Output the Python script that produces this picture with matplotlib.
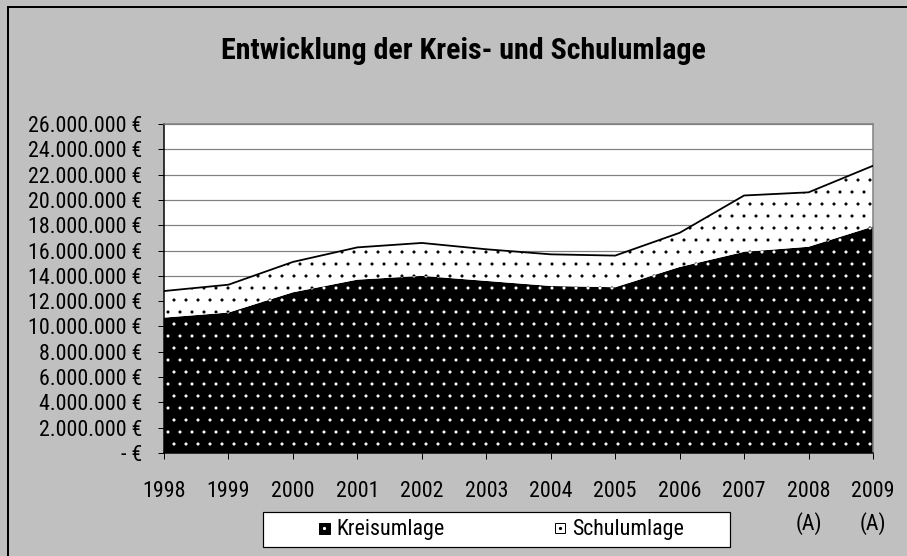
import numpy as np
import matplotlib
matplotlib.use("Agg")
import matplotlib.pyplot as plt
from matplotlib.patches import Rectangle
from matplotlib.lines import Line2D
from matplotlib.ticker import FuncFormatter

# ---- data ----
years = ['1998', '1999', '2000', '2001', '2002', '2003', '2004', '2005',
         '2006', '2007', '2008\n(A)', '2009\n(A)']
kreisumlage = [10.7e6, 11.1e6, 12.7e6, 13.7e6, 14.0e6, 13.6e6, 13.2e6, 13.1e6,
               14.7e6, 15.9e6, 16.3e6, 17.9e6]
schulumlage = [2.1e6, 2.2e6, 2.4e6, 2.55e6, 2.6e6, 2.5e6, 2.5e6, 2.5e6,
               2.7e6, 4.45e6, 4.3e6, 4.8e6]
series_names = ['Kreisumlage', 'Schulumlage']
title = 'Entwicklung der Kreis- und Schulumlage'

plt.rcParams['font.family'] = ['Roboto Condensed', 'Liberation Sans', 'DejaVu Sans']
plt.rcParams['hatch.linewidth'] = 0.6

W, H, DPI = 907, 556, 72
fig = plt.figure(figsize=(W / DPI, H / DPI), dpi=DPI, facecolor='#C0C0C0')

def fx(px):
    return px / W

def fy(py):
    return 1 - py / H

# outer frame (left and top visible)
fig.add_artist(Line2D([fx(8), fx(8)], [fy(7), 0], color='black', lw=2))
fig.add_artist(Line2D([fx(8), 1], [fy(7), fy(7)], color='black', lw=2))

left, right, top, bottom = 164, 873, 124, 453
ax = fig.add_axes([fx(left), fy(bottom), fx(right - left), (bottom - top) / H])
ax.set_facecolor('white')

x = np.arange(len(years))
k = np.array(kreisumlage)
s = np.array(schulumlage)
tot = k + s

ax.fill_between(x, 0, k, facecolor='black', edgecolor='white', hatch='.',
                linewidth=0, zorder=2)
ax.fill_between(x, k, tot, facecolor='white', edgecolor='black', hatch='.',
                linewidth=0, zorder=2)
ax.plot(x, tot, color='black', lw=1.8, zorder=3)

ax.set_xlim(0, len(years) - 1)
ax.set_ylim(0, 26e6)
ax.set_yticks(np.arange(0, 26e6 + 1, 2e6))

def fmt(v, pos):
    if v == 0:
        return '- €'
    return f'{int(round(v)):,}'.replace(',', '.') + ' €'

ax.yaxis.set_major_formatter(FuncFormatter(fmt))
ax.set_xticks(x)
ax.set_xticklabels(years, linespacing=1.55)
ax.grid(axis='y', color='#808080', lw=1.2, zorder=1)
ax.set_axisbelow(True)

ax.tick_params(axis='y', direction='out', length=6, width=1, pad=16,
               labelsize=22, colors='black')
ax.tick_params(axis='x', direction='out', length=6, width=1, pad=22,
               labelsize=22, colors='black')
for sp in ['left', 'bottom']:
    ax.spines[sp].set_color('black')
    ax.spines[sp].set_linewidth(1.5)
for sp in ['top', 'right']:
    ax.spines[sp].set_color('#808080')
    ax.spines[sp].set_linewidth(1.5)

fig.text(fx(463), fy(51), title, ha='center', va='center',
         fontsize=30, fontweight='bold')

# legend frame
fig.add_artist(Rectangle((fx(263), fy(547)), fx(730 - 263), (547 - 512) / H,
                         facecolor='white', edgecolor='black', lw=1.2,
                         transform=fig.transFigure))
h1 = (Line2D([], [], marker='s', ls='', ms=11, mfc='black', mec='black'),
      Line2D([], [], marker='o', ls='', ms=2.2, mfc='white', mec='white'))
h2 = (Line2D([], [], marker='s', ls='', ms=10, mfc='white', mec='black', mew=1),
      Line2D([], [], marker='o', ls='', ms=2.2, mfc='black', mec='black'))
leg = fig.legend([h1, h2], series_names, loc='center left',
                 bbox_to_anchor=(fx(318), fy(530)), ncol=2, frameon=False,
                 fontsize=22, handlelength=0.55, handleheight=0.55,
                 handletextpad=0.3, columnspacing=4.95, borderpad=0,
                 borderaxespad=0)

fig.savefig('out.png', dpi=DPI, facecolor=fig.get_facecolor())
